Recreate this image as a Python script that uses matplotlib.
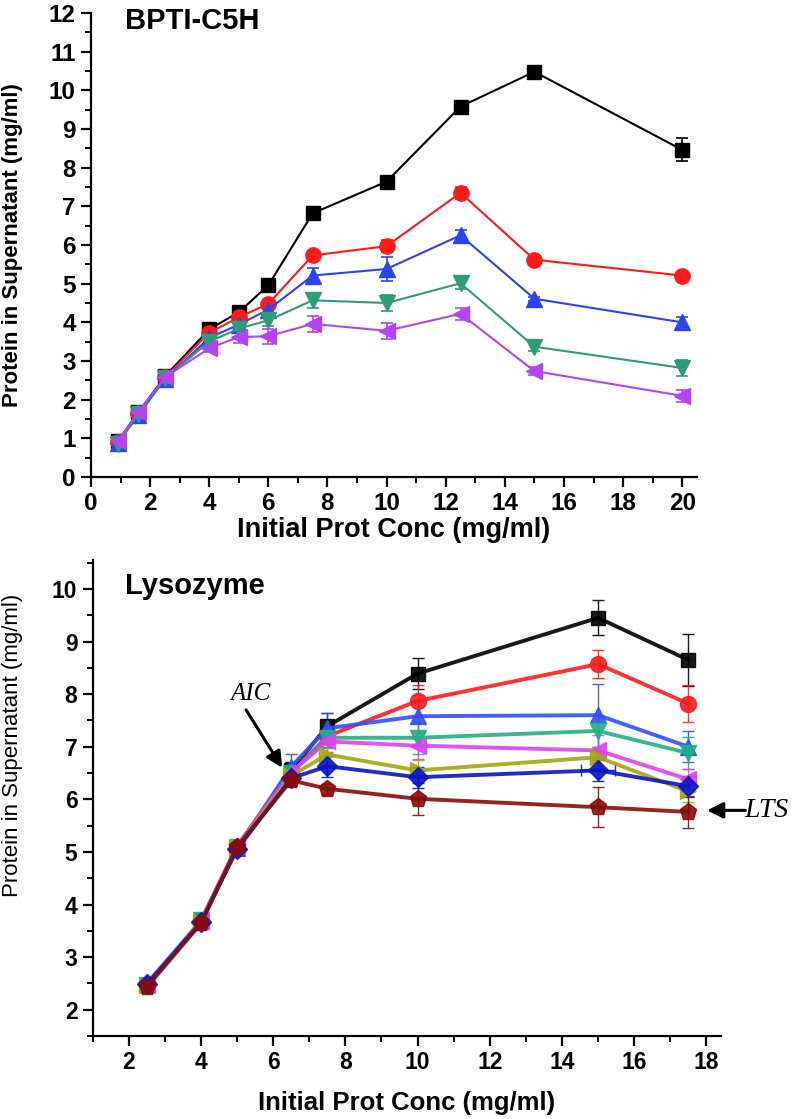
import matplotlib
matplotlib.use('Agg')
import matplotlib.pyplot as plt
from matplotlib.ticker import MultipleLocator
from matplotlib.patches import FancyArrowPatch

plt.rcParams['font.family'] = ['Liberation Sans', 'DejaVu Sans']

# ---- top panel: BPTI-C5H ----
bpti_x = [0.9, 1.6, 2.5, 4, 5, 6, 7.5, 10, 12.5, 15, 20]
bpti_black = [0.92, 1.67, 2.6, 3.82, 4.26, 4.96, 6.82, 7.64, 9.58, 10.48, 8.46]
bpti_red = [0.9, 1.65, 2.58, 3.73, 4.13, 4.48, 5.73, 5.97, 7.35, 5.62, 5.21]
bpti_blue = [0.87, 1.6, 2.53, 3.6, 3.94, 4.33, 5.21, 5.38, 6.25, 4.61, 4.0]
bpti_green = [0.86, 1.64, 2.55, 3.5, 3.84, 4.05, 4.57, 4.5, 5.01, 3.37, 2.82]
bpti_purple = [0.92, 1.68, 2.58, 3.33, 3.62, 3.64, 3.96, 3.78, 4.22, 2.74, 2.1]
bpti_err_black = [0.05, 0.05, 0.05, 0.08, 0.08, 0.08, 0.1, 0.15, 0.1, 0.05, 0.3]
bpti_err_red = [0.05, 0.05, 0.05, 0.08, 0.1, 0.1, 0.1, 0.15, 0.15, 0.05, 0.05]
bpti_err_blue = [0.05, 0.05, 0.05, 0.1, 0.1, 0.1, 0.2, 0.3, 0.15, 0.05, 0.15]
bpti_err_green = [0.05, 0.05, 0.05, 0.1, 0.1, 0.15, 0.2, 0.2, 0.15, 0.1, 0.2]
bpti_err_purple = [0.05, 0.05, 0.05, 0.1, 0.15, 0.2, 0.2, 0.2, 0.15, 0.1, 0.15]

# ---- bottom panel: Lysozyme ----
lys_x = [2.5, 4, 5, 6.5, 7.5, 10, 15, 17.5]
lys_black = [2.47, 3.68, 5.1, 6.55, 7.39, 8.39, 9.45, 8.65]
lys_red = [2.47, 3.68, 5.1, 6.5, 7.2, 7.87, 8.57, 7.82]
lys_blue = [2.5, 3.68, 5.07, 6.62, 7.35, 7.58, 7.6, 7.0]
lys_green = [2.47, 3.7, 5.1, 6.5, 7.17, 7.17, 7.3, 6.88]
lys_magenta = [2.47, 3.68, 5.12, 6.52, 7.1, 7.02, 6.93, 6.38]
lys_olive = [2.47, 3.66, 5.1, 6.45, 6.85, 6.55, 6.8, 6.15]
lys_navy = [2.48, 3.66, 5.05, 6.4, 6.63, 6.42, 6.55, 6.25]
lys_darkred = [2.43, 3.64, 5.1, 6.36, 6.2, 6.01, 5.85, 5.76]
lys_err_black = [0.05, 0.08, 0.08, 0.15, 0.25, 0.3, 0.33, 0.5]
lys_err_red = [0.05, 0.1, 0.08, 0.15, 0.2, 0.3, 0.26, 0.35]
lys_err_blue = [0.05, 0.15, 0.1, 0.25, 0.3, 0.4, 0.6, 0.3]
lys_err_green = [0.05, 0.1, 0.08, 0.15, 0.2, 0.3, 0.3, 0.3]
lys_err_magenta = [0.05, 0.1, 0.08, 0.15, 0.2, 0.25, 0.3, 0.2]
lys_err_olive = [0.05, 0.1, 0.08, 0.1, 0.2, 0.2, 0.2, 0.2]
lys_err_navy = [0.05, 0.1, 0.08, 0.1, 0.2, 0.2, 0.2, 0.2]
lys_xerr_navy = [0, 0, 0, 0, 0, 0, 0.46, 0]
lys_err_darkred = [0.05, 0.08, 0.08, 0.1, 0.1, 0.3, 0.38, 0.3]

W, H = 799, 1119
fig = plt.figure(figsize=(W/100, H/100), dpi=100)


def style_axes(ax, fs, weight):
	ax.spines['top'].set_visible(False)
	ax.spines['right'].set_visible(False)
	ax.spines['left'].set_linewidth(1.6)
	ax.spines['bottom'].set_linewidth(1.6)
	ax.tick_params(which='major', direction='out', length=7, width=1.6, labelsize=fs, pad=4)
	ax.tick_params(which='minor', direction='out', length=4, width=1.4)
	for lab in ax.get_xticklabels() + ax.get_yticklabels():
		lab.set_fontweight(weight)


# top axes
ax1 = fig.add_axes([91/W, (H-477)/H, (697-91)/W, (477-13)/H])
top_series = [
	(bpti_black, bpti_err_black, 'black', 's', 10),
	(bpti_red, bpti_err_red, '#ff1a1a', 'o', 11),
	(bpti_blue, bpti_err_blue, '#2a45f5', '^', 11.5),
	(bpti_green, bpti_err_green, '#2e9c78', 'v', 11.5),
	(bpti_purple, bpti_err_purple, '#b443f5', '<', 11.5),
]
for ys, es, c, m, ms in top_series:
	ax1.errorbar(bpti_x, ys, yerr=es, color=c, marker=m, markersize=ms, lw=1.5,
		elinewidth=1.2, capsize=4, capthick=1.2, clip_on=False)
ax1.set_xlim(0, 20.5)
ax1.set_ylim(0, 12)
ax1.xaxis.set_major_locator(MultipleLocator(2))
ax1.xaxis.set_minor_locator(MultipleLocator(1))
ax1.yaxis.set_major_locator(MultipleLocator(1))
ax1.yaxis.set_minor_locator(MultipleLocator(0.5))
style_axes(ax1, 17.5, 'bold')
ax1.set_xlabel('Initial Prot Conc (mg/ml)', fontsize=19.5, fontweight='bold', labelpad=1)
ax1.set_ylabel('Protein in Supernatant (mg/ml)', fontsize=16, fontweight='bold')
ax1.yaxis.set_label_coords(-0.113, 0.5)
ax1.text(1.15, 11.8, 'BPTI-C5H', fontsize=21, fontweight='bold', va='center', ha='left')

# bottom axes
ax2 = fig.add_axes([92.7/W, (H-1036)/H, (720.8-92.7)/W, (1036-560)/H])
bot_series = [
	(lys_black, lys_err_black, 'black', 's', 10),
	(lys_red, lys_err_red, '#ff1a1a', 'o', 11.5),
	(lys_blue, lys_err_blue, '#3050ff', '^', 12),
	(lys_green, lys_err_green, '#22b080', 'v', 12),
	(lys_magenta, lys_err_magenta, '#e040f0', '<', 12),
	(lys_olive, lys_err_olive, '#a0a810', '>', 12),
	(lys_navy, lys_err_navy, '#0a14c8', 'D', 10),
	(lys_darkred, lys_err_darkred, '#8b0a0a', 'p', 12.5),
]
for ys, es, c, m, ms in bot_series:
	xe = lys_xerr_navy if ys is lys_navy else None
	ax2.errorbar(lys_x, ys, yerr=es, xerr=xe, color=c, marker=m, markersize=ms, lw=2.8,
		elinewidth=1.0, capsize=4.5, capthick=1.0, alpha=0.9)
ax2.set_xlim(1, 18.4)
ax2.set_ylim(1.5, 10.55)
ax2.xaxis.set_major_locator(MultipleLocator(2))
ax2.xaxis.set_minor_locator(MultipleLocator(1))
ax2.yaxis.set_major_locator(MultipleLocator(1))
ax2.yaxis.set_minor_locator(MultipleLocator(0.5))
style_axes(ax2, 16.5, 'bold')
ax2.set_xlabel('Initial Prot Conc (mg/ml)', fontsize=18.5, fontweight='bold', labelpad=12)
ax2.set_ylabel('Protein in Supernatant (mg/ml)', fontsize=16)
ax2.yaxis.set_label_coords(-0.111, 0.61)
ax2.text(1.9, 10.05, 'Lysozyme', fontsize=21, fontweight='bold', va='center', ha='left')

# annotations
ax2.text(5.36, 8.0, 'AIC', fontsize=18, style='italic', family='Liberation Serif',
	ha='center', va='center')
aic_arrow = FancyArrowPatch((5.25, 7.7), (6.25, 6.6), arrowstyle='-|>', color='black',
	lw=2.2, mutation_scale=24, shrinkA=0, shrinkB=0)
ax2.add_patch(aic_arrow)
ax2.text(19.05, 5.79, 'LTS', fontsize=20, style='italic', family='Liberation Serif',
	ha='left', va='center', clip_on=False)
lts_arrow = FancyArrowPatch((19.08, 5.79), (18.02, 5.79), arrowstyle='-|>', color='black',
	lw=2.2, mutation_scale=24, shrinkA=0, shrinkB=0, clip_on=False)
ax2.add_patch(lts_arrow)

plt.savefig('out.png', dpi=100)
